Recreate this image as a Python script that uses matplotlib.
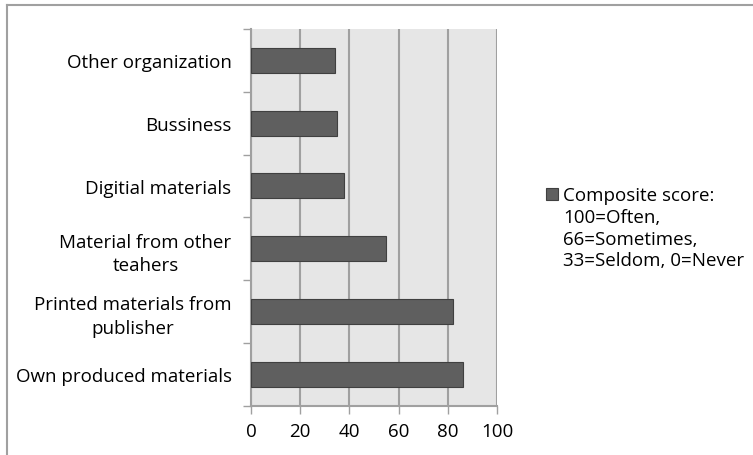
import matplotlib.pyplot as plt
from matplotlib.patches import Rectangle
from matplotlib.lines import Line2D

plt.rcParams["font.family"] = ["Open Sans", "DejaVu Sans"]

# Sources of teaching material, bottom to top
sources = [
    "Own produced materials",
    "Printed materials from\npublisher",
    "Material from other\nteahers",
    "Digitial materials",
    "Bussiness",
    "Other organization",
]
scores = [86, 82, 55, 38, 35, 34]
x_ticks = [0, 20, 40, 60, 80, 100]
legend_text = "Composite score:\n100=Often,\n66=Sometimes,\n33=Seldom, 0=Never"

fig = plt.figure(figsize=(7.53, 4.56), dpi=100)
ax = fig.add_axes([251 / 753, 49.5 / 456, 246 / 753, 376.5 / 456])

ax.set_facecolor("#e6e6e6")
pos = list(range(len(sources)))
ax.barh(pos, scores, height=0.4, color="#5f5f5f", edgecolor="#404040",
        linewidth=0.8, zorder=3)

ax.set_xlim(0, 100)
ax.set_ylim(-0.5, len(sources) - 0.5)
ax.set_xticks(x_ticks)
ax.set_xticklabels([str(t) for t in x_ticks], fontsize=13.5)
ax.xaxis.grid(True, color="#a0a0a0", linewidth=1.5, zorder=1)

# category ticks sit between the bars; labels at the centres
ax.set_yticks([p - 0.5 for p in pos] + [len(sources) - 0.5])
ax.set_yticklabels([])
ax.set_yticks(pos, minor=True)
ax.set_yticklabels(sources, minor=True, fontsize=13.5, multialignment="center",
                   linespacing=1.4)
ax.tick_params(axis="y", which="minor", length=0, pad=14)
ax.tick_params(axis="y", which="major", length=6, color="#a0a0a0", width=1)
ax.tick_params(axis="x", length=6, color="#a0a0a0", width=1, pad=6)

for side in ["top", "right"]:
    ax.spines[side].set_visible(False)
for side in ["left", "bottom"]:
    ax.spines[side].set_color("#a0a0a0")
    ax.spines[side].set_linewidth(1.5)

# legend box and text
fig.patches.append(Rectangle((546 / 753, 1 - 201 / 456), 12 / 753, 12 / 456,
                             transform=fig.transFigure, facecolor="#5f5f5f",
                             edgecolor="#404040", linewidth=0.8))
fig.text(563 / 753, 1 - 187 / 456, legend_text, fontsize=13.5, va="top",
         ha="left", linespacing=1.27)

# chart frame (top and left edges)
fig.lines.append(Line2D([7 / 753, 1], [1 - 6 / 456, 1 - 6 / 456],
                        transform=fig.transFigure, color="#a0a0a0", linewidth=1.5))
fig.lines.append(Line2D([7 / 753, 7 / 753], [0, 1 - 6 / 456],
                        transform=fig.transFigure, color="#a0a0a0", linewidth=1.5))

fig.savefig("out.png", dpi=100)
